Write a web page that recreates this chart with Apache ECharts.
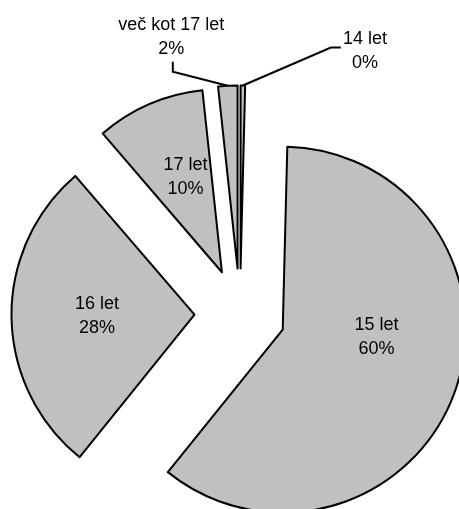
<!DOCTYPE html>
<html><head><meta charset="utf-8">
<script src="https://cdn.jsdelivr.net/npm/echarts@6/dist/echarts.min.js"></script>
<style>html,body{margin:0;padding:0;background:#fff}#c{width:459px;height:509px}</style>
</head><body><div id="c"></div>
<script>
const categories = ['14 let', '15 let', '16 let', '17 let', 'več kot 17 let'];
const shares = [0.4, 60.4, 27.9, 9.6, 1.7];
const outsideLabels = ['14 let', 'več kot 17 let'];

const chart = echarts.init(document.getElementById('c'), null, {renderer: 'canvas'});
const labelNudge = {
  '15 let': [5, -25], '16 let': [-3, 0], '17 let': [1, -8],
  '14 let': [107, -22.5], 'več kot 17 let': [-41, -36.5]
};
const lineStyle = {color: '#000', width: 2};

const option = {
  animation: false,
  series: [{
    type: 'pie',
    center: [240, 314],
    radius: 183,
    startAngle: 90,
    clockwise: true,
    selectedMode: 'multiple',
    selectedOffset: 45.5,
    avoidLabelOverlap: false,
    minShowLabelAngle: 0,
    emphasis: {disabled: true},
    itemStyle: {color: '#c0c0c0', borderColor: '#000', borderWidth: 2},
    label: {
      show: true, position: 'inside',
      formatter: p => p.name + '\n' + Math.round(p.percent) + '%',
      fontFamily: 'Liberation Sans', fontSize: 18, color: '#000', lineHeight: 24
    },
    labelLine: {show: false},
    labelLayout: function (params) {
      const name = categories[params.dataIndex];
      const nudge = labelNudge[name];
      const res = {dx: nudge[0], dy: nudge[1]};
      if (outsideLabels.indexOf(name) < 0) return res;
      const pts = params.labelLinePoints;
      if (!pts) return res;
      const a = pts[0];
      res.align = 'center';
      res.verticalAlign = 'middle';
      if (name === '14 let') {
        res.labelLinePoints = [[a[0], a[1]], [a[0] + 88, a[1] - 38], [a[0] + 98, a[1] - 38]];
      } else {
        res.labelLinePoints = [[a[0], a[1]], [a[0] - 55, a[1] - 14], [a[0] - 55, a[1] - 24]];
      }
      return res;
    },
    data: categories.map((n, i) => {
      const item = {name: n, value: shares[i], selected: true};
      if (outsideLabels.indexOf(n) >= 0) {
        item.label = {position: 'outside'};
        item.labelLine = {show: true, length: 12, length2: 10, lineStyle: lineStyle};
      }
      return item;
    })
  }]
};
chart.setOption(option);
</script>
</body></html>
